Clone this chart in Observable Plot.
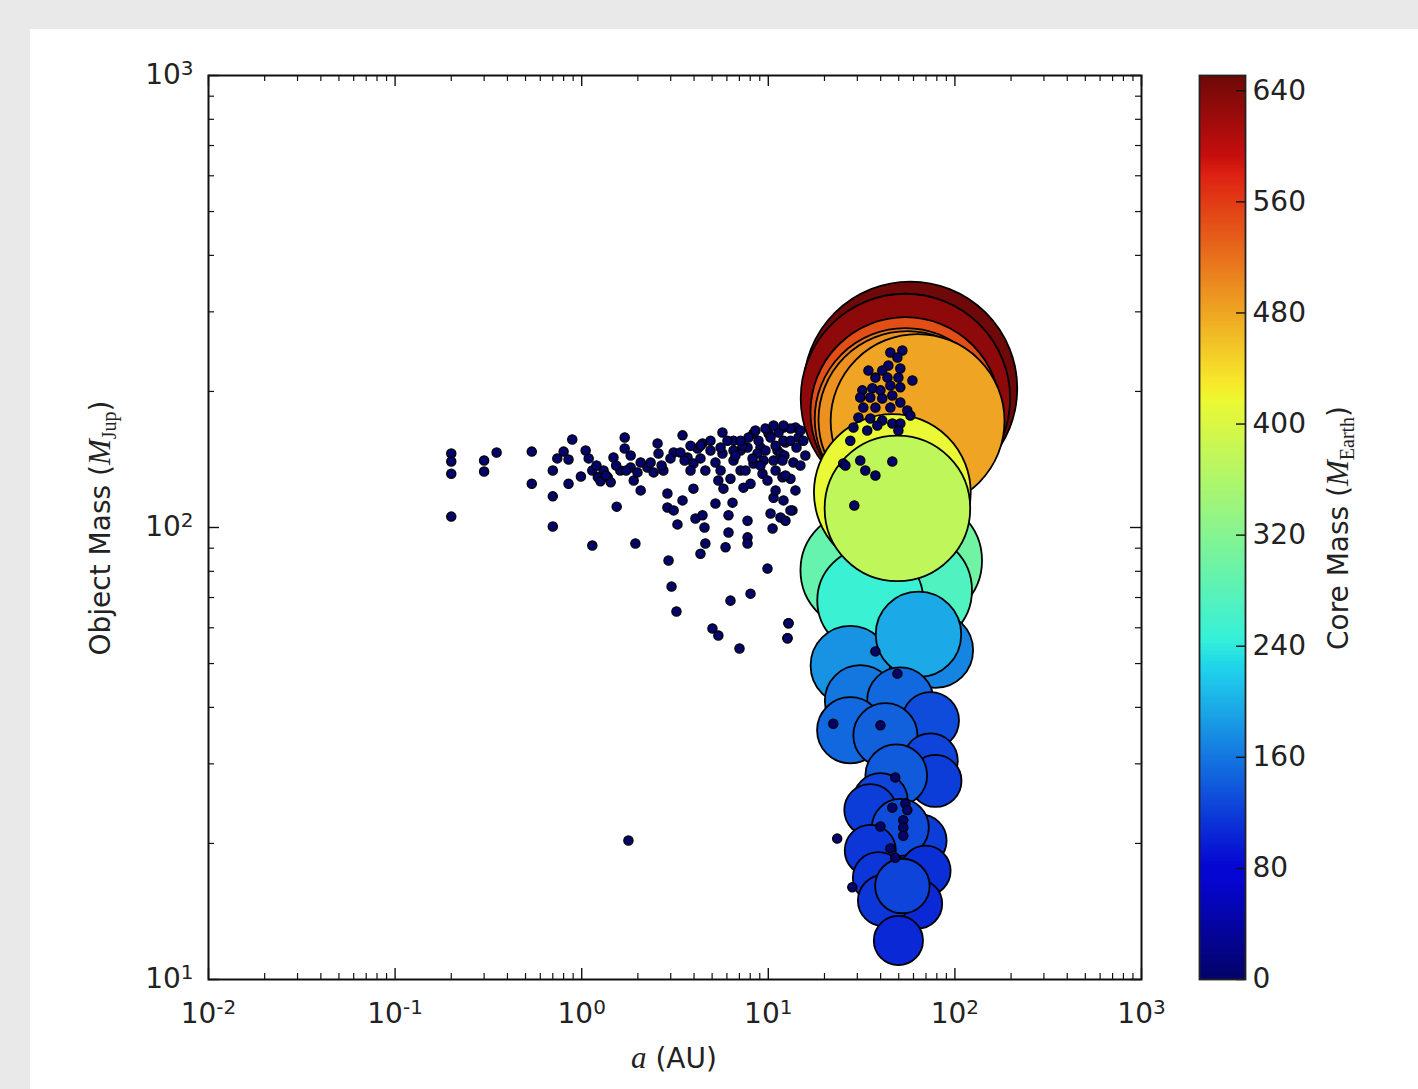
<!DOCTYPE html>
<html>
<head>
<meta charset="utf-8">
<script src="https://cdn.jsdelivr.net/npm/d3@7"></script>
<script src="https://cdn.jsdelivr.net/npm/@observablehq/plot@0.6"></script>
<style>
  html, body { margin: 0; padding: 0; background: #e9e9e9; }
  body { width: 1418px; height: 1089px; position: relative; overflow: hidden; font-family: "DejaVu Sans", sans-serif; }
  #panel { position: absolute; left: 30px; top: 29px; width: 1388px; height: 1060px; background: #ffffff; }
  #main { position: absolute; left: 0; top: 0; }
  #cbar { position: absolute; left: 1160px; top: 0; }
</style>
</head>
<body>
<div id="panel"><div id="main"></div><div id="cbar"></div></div>
<script>
// ---------------- data ----------------
// Large objects: semi-major axis a (AU), object mass (M_Jup), core mass (M_Earth)
const bigA    = [57.7, 54.3, 54.3, 54.3, 55.6, 63.1, 65.5, 31.1, 61.5, 35.2, 46.2, 49.2, 78.7, 27.5, 63.8,
                 31.1, 51.0, 27.5, 74.0, 42.4, 74.0, 78.7, 48.5, 39.9, 35.2, 65.5, 51.0, 35.2, 38.9, 69.6, 63.1, 41.4, 49.8, 52.3];
const bigM    = [203, 193, 180, 174, 173, 172, 84.5, 80.4, 72.6, 68.9, 119.5, 110.2, 53.5, 49.5, 58.0,
                 41.4, 41.4, 35.6, 37.4, 34.7, 30.5, 27.5, 28.3, 24.9, 23.7, 20.3, 21.7, 19.3, 16.8, 17.4, 14.7, 14.95, 12.2, 16.1];
const bigCore = [650, 630, 545, 510, 495, 480, 300, 290, 270, 250, 415, 375, 170, 180, 195,
                 160, 150, 150, 130, 145, 125, 120, 140, 125, 120, 120, 130, 115, 115, 110, 105, 115, 105, 125];

// Small objects (core mass ~ 0)
const smallA = [
  0.20, 0.20, 0.20, 0.20, 0.30, 0.30, 0.35, 0.54, 0.54, 0.70, 0.70, 0.70, 0.74, 0.80, 0.85, 0.85, 0.89, 0.99,
  1.05, 1.09, 1.14, 1.14, 1.22, 1.26, 1.31, 1.38, 1.43, 1.48, 1.54, 1.61, 1.70, 1.70, 1.83, 1.83, 1.90, 1.99,
  2.07, 1.94, 2.25, 2.43, 2.55, 2.58, 2.74, 2.88, 2.88, 2.92, 3.03, 3.22, 3.11, 3.26, 3.11, 3.47, 3.47, 3.69,
  3.97, 3.97, 4.07, 4.18, 4.44, 4.44, 4.55, 4.60, 4.33, 4.90, 5.02, 5.40, 5.21, 5.40, 5.68, 5.68, 5.75, 5.90,
  6.12, 6.12, 6.27, 7.01, 6.43, 6.51, 6.51, 7.10, 7.10, 7.36, 7.74, 7.74, 7.74, 8.03, 8.03, 8.33, 8.33, 9.08,
  9.31, 9.90, 9.90, 10.03, 10.28, 10.54, 10.67, 10.94, 11.2, 11.62, 11.91, 12.06, 12.36, 12.83, 12.67, 13.15,
  13.47, 13.63, 13.98, 14.51, 7.74, 8.75, 9.43, 10.67, 11.62, 12.06, 6.51,
  2.34, 2.99, 3.38, 3.83, 4.33, 4.90, 5.21, 5.55, 6.04, 6.67, 7.28, 7.83, 8.23, 8.86, 9.66, 10.28, 10.94, 11.35,
  12.2, 13.15, 14.16, 14.86, 15.4, 15.8, 13.15, 14.86, 12.36, 13.98, 12.06, 13.15, 12.36, 2.07, 2.68, 1.73, 1.53,
  1.35, 1.20, 3.83, 4.60, 6.27, 7.55, 9.08, 10.94, 11.91, 5.55, 4.33, 3.56, 7.10, 8.53, 9.66, 10.67, 12.06,
  45.1, 52.3, 49.2, 44.0, 51.0, 40.8, 34.4, 59.2, 37.5, 43.5, 49.8, 31.9, 36.1, 39.9, 45.1, 51.0, 31.1, 35.2,
  40.8, 46.2, 32.3, 37.5, 45.1, 51.0, 55.6, 57.7, 30.4, 35.2, 40.8, 46.2, 51.0, 28.6, 33.9, 38.4, 49.8, 27.5,
  25.2, 31.1, 33.1, 37.5, 46.2, 28.9, 25.9,
  37.5, 49.2, 39.9, 47.9, 46.2, 54.3, 55.6, 52.9, 52.9, 52.9, 39.9, 45.1, 47.9, 22.3, 28.2, 12.83, 12.67, 23.4, 1.78
];
const smallM = [
  145.8, 140.0, 131.5, 105.7, 140.7, 133.0, 146.5, 147.2, 125.0, 133.7, 117.2, 100.5, 142.2, 147.2, 141.4, 125.0, 156.6, 129.7,
  148.0, 142.2, 133.7, 91.2, 129.1, 126.5, 133.7, 129.1, 125.9, 142.9, 111.2, 133.7, 158.2, 149.6, 144.3, 135.8, 127.1, 132.4,
  120.8, 92.2, 135.8, 132.4, 153.5, 145.8, 133.7, 118.9, 110.7, 84.5, 74.0, 65.2, 109.1, 101.6, 146.5, 159.9, 114.8, 142.9,
  138.6, 121.9, 104.7, 149.6, 153.5, 106.4, 100.0, 92.2, 87.5, 148.0, 59.8, 57.7, 113.0, 127.1, 162.2, 145.8, 121.9, 90.4,
  97.5, 106.4, 68.9, 54.0, 113.5, 140.7, 155.6, 148.0, 133.7, 122.5, 103.5, 95.1, 92.2, 125.0, 71.4, 161.4, 138.6, 150.3,
  131.5, 81.1, 127.1, 161.4, 107.4, 99.5, 116.4, 120.8, 148.0, 105.2, 129.1, 166.4, 154.2, 61.4, 56.9, 128.2,
  109.1, 139.3, 166.4, 158.2, 150.3, 145.8, 140.7, 140.7, 145.8, 155.6, 148.0,
  139.3, 142.2, 146.5, 151.7, 142.2, 155.6, 139.3, 150.3, 155.6, 144.3, 151.7, 158.2, 142.2, 155.6, 148.0, 158.2, 151.7, 162.2,
  144.3, 155.6, 150.3, 163.9, 155.6, 144.3, 165.6, 137.1, 130.3, 120.8, 114.8, 109.1, 103.5, 139.3, 137.1, 133.7, 137.1,
  130.3, 137.1, 133.7, 133.7, 128.2, 133.7, 137.1, 133.7, 140.7, 133.7, 151.7, 140.7, 155.6, 163.9, 165.6, 168.1, 168.1,
  243.8, 246.4, 237.7, 228.2, 224.7, 222.4, 222.4, 211.5, 214.6, 214.6, 214.6, 201.1, 203.2, 201.1, 206.1, 204.2, 194.0, 194.0,
  192.9, 195.9, 184.2, 184.2, 184.2, 189.1, 181.5, 176.9, 175.1, 174.2, 172.5, 169.8, 169.8, 166.4, 163.9, 168.1, 163.9, 155.6,
  138.6, 140.7, 133.7, 130.3, 140.0, 111.9, 137.1,
  53.2, 47.5, 36.5, 28.0, 24.0, 24.5, 23.7, 22.5, 21.7, 20.8, 21.8, 19.5, 18.6, 36.8, 16.0, 61.4, 56.9, 20.5, 20.3
];

// Axis ticks
const xMajor = [0.01, 0.1, 1, 10, 100, 1000];
const yMajor = [10, 100, 1000];
const minorMult = [2, 3, 4, 5, 6, 7, 8, 9];
const cbTicks = [0, 80, 160, 240, 320, 400, 480, 560, 640];
const coreMax = 651;

// ---------------- helpers ----------------
function lerpStops(t, stops) {
  for (let i = 1; i < stops.length; i++) {
    if (t <= stops[i][0]) {
      const [t0, v0] = stops[i - 1], [t1, v1] = stops[i];
      return v0 + (v1 - v0) * (t - t0) / (t1 - t0);
    }
  }
  return stops[stops.length - 1][1];
}
// matplotlib "jet", slightly desaturated like the reference rendering
function jet(t) {
  t = Math.max(0, Math.min(1, t));
  let r = 255 * lerpStops(t, [[0, 0], [0.35, 0], [0.66, 1], [0.89, 1], [1, 0.5]]);
  let g = 255 * lerpStops(t, [[0, 0], [0.125, 0], [0.375, 1], [0.64, 1], [0.91, 0], [1, 0]]);
  let b = 255 * lerpStops(t, [[0, 0.5], [0.11, 1], [0.34, 1], [0.65, 0], [1, 0]]);
  const L = 0.3 * r + 0.59 * g + 0.11 * b, s = 0.8;
  r = L + s * (r - L); g = L + s * (g - L); b = L + s * (b - L);
  const c = v => Math.round(Math.max(0, Math.min(255, v)));
  return `rgb(${c(r)},${c(g)},${c(b)})`;
}
const expo = d => String(Math.round(Math.log10(d)));
const fmt = d => "10^" + expo(d);

const colorOpts = {type: "linear", domain: [0, coreMax], interpolate: jet};
const minorX = xMajor.slice(0, -1).flatMap(d => minorMult.map(k => k * d));
const minorY = yMajor.slice(0, -1).flatMap(d => minorMult.map(k => k * d));

const W = 1160, H = 1060, mL = 178, mR = 49, mT = 46, mB = 110;
const fw = W - mL - mR, fh = H - mT - mB;
const bigIdx = d3.range(bigA.length);
const smallIdx = d3.range(smallA.length);
const tickCol = "#111";

const main = Plot.plot({
  width: W, height: H,
  marginLeft: mL, marginRight: mR, marginTop: mT, marginBottom: mB,
  style: {fontFamily: "DejaVu Sans", fontSize: "28px", color: "#222", background: "white"},
  x: {type: "log", domain: [0.01, 1000], axis: null},
  y: {type: "log", domain: [10, 1000], axis: null},
  r: {type: "sqrt", domain: [0, 120, coreMax], range: [4.5, 26, 107]},
  color: colorOpts,
  marks: [
    Plot.dot(bigIdx, {x: i => bigA[i], y: i => bigM[i], r: i => bigCore[i], fill: i => bigCore[i],
      stroke: "#000", strokeWidth: 1.8, sort: null}),
    Plot.dot(smallIdx, {x: i => smallA[i], y: i => smallM[i], r: 4.6, fill: () => 0,
      stroke: "#000", strokeWidth: 1.3, sort: null}),
    // inward ticks on all sides
    Plot.tickX(xMajor, {x: d => d, stroke: tickCol, strokeWidth: 1.4, insetTop: fh - 11}),
    Plot.tickX(xMajor, {x: d => d, stroke: tickCol, strokeWidth: 1.4, insetBottom: fh - 11}),
    Plot.tickX(minorX, {x: d => d, stroke: tickCol, strokeWidth: 1.2, insetTop: fh - 6}),
    Plot.tickX(minorX, {x: d => d, stroke: tickCol, strokeWidth: 1.2, insetBottom: fh - 6}),
    Plot.tickY(yMajor, {y: d => d, stroke: tickCol, strokeWidth: 1.4, insetRight: fw - 11}),
    Plot.tickY(yMajor, {y: d => d, stroke: tickCol, strokeWidth: 1.4, insetLeft: fw - 11}),
    Plot.tickY(minorY, {y: d => d, stroke: tickCol, strokeWidth: 1.2, insetRight: fw - 6}),
    Plot.tickY(minorY, {y: d => d, stroke: tickCol, strokeWidth: 1.2, insetLeft: fw - 6}),
    Plot.axisX(xMajor, {anchor: "bottom", tickSize: 0, tickPadding: 24, tickFormat: fmt, fontSize: 28, fill: "#222"}),
    Plot.axisY(yMajor, {anchor: "left", tickSize: 0, tickPadding: 15, tickFormat: fmt, fontSize: 28, fill: "#222"}),
    Plot.frame({stroke: "#111", strokeWidth: 2})
  ]
});
document.getElementById("main").appendChild(main);

// turn "10^k" labels into real superscripts
d3.select(main).selectAll("text").each(function () {
  const el = d3.select(this);
  const t = this.textContent;
  if (!/^10\^-?\d$/.test(t)) return;
  const e = t.split("^")[1];
  el.text("");
  el.append("tspan").text("10");
  el.append("tspan").attr("dy", "-0.45em").attr("font-size", 20).text(e);
});

// axis labels with math-style parts
const ms = d3.select(main);
const xl = ms.append("text").attr("transform", "translate(644,1039)").attr("text-anchor", "middle")
  .attr("font-size", 28).attr("fill", "#222").attr("font-family", "DejaVu Sans");
xl.append("tspan").attr("font-family", "Liberation Serif").attr("font-style", "italic").attr("font-size", 31).text("a");
xl.append("tspan").text(" (AU)");

const yl = ms.append("text").attr("transform", "translate(80,499) rotate(-90)").attr("text-anchor", "middle")
  .attr("font-size", 28).attr("fill", "#222").attr("font-family", "DejaVu Sans");
yl.append("tspan").text("Object Mass (");
yl.append("tspan").attr("font-family", "Liberation Serif").attr("font-style", "italic").attr("font-size", 31).text("M");
yl.append("tspan").attr("font-family", "Liberation Serif").attr("font-size", 20).attr("dy", 6).text("Jup");
yl.append("tspan").attr("dy", -6).text(")");

// ---------------- colorbar ----------------
const CW = 228, cL = 9, cR = 173;
const steps = d3.range(0, coreMax, 1);
const cbar = Plot.plot({
  width: CW, height: H,
  marginLeft: cL, marginRight: cR, marginTop: mT, marginBottom: mB,
  style: {fontFamily: "DejaVu Sans", fontSize: "28px", color: "#222", background: "transparent"},
  y: {domain: [0, coreMax], axis: null},
  color: colorOpts,
  marks: [
    Plot.rect(steps, {y1: d => d, y2: d => Math.min(coreMax, d + 1.5), fill: d => d + 0.5, shapeRendering: "crispEdges"}),
    Plot.tickY(cbTicks, {y: d => d, stroke: tickCol, strokeWidth: 1.4, insetLeft: (CW - cL - cR) - 9}),
    Plot.axisY(cbTicks, {anchor: "right", tickSize: 0, tickPadding: 7, fontSize: 28, fill: "#222"}),
    Plot.frame({stroke: "#222", strokeWidth: 1.8})
  ]
});
document.getElementById("cbar").appendChild(cbar);
const cs = d3.select(cbar);
const cl = cs.append("text").attr("transform", "translate(158,499) rotate(-90)").attr("text-anchor", "middle")
  .attr("font-size", 28).attr("fill", "#222").attr("font-family", "DejaVu Sans");
cl.append("tspan").text("Core Mass (");
cl.append("tspan").attr("font-family", "Liberation Serif").attr("font-style", "italic").attr("font-size", 31).text("M");
cl.append("tspan").attr("font-family", "Liberation Serif").attr("font-size", 20).attr("dy", 6).text("Earth");
cl.append("tspan").attr("dy", -6).text(")");
</script>
</body>
</html>
